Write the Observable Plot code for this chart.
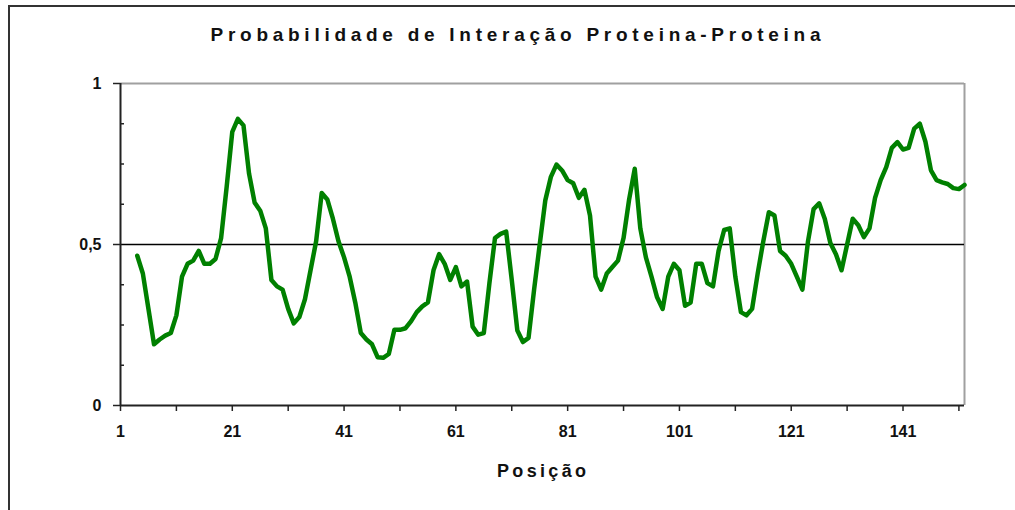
<!DOCTYPE html>
<html><head><meta charset="utf-8">
<script src="https://cdn.jsdelivr.net/npm/d3@7"></script>
<script src="https://cdn.jsdelivr.net/npm/@observablehq/plot@0.6"></script>
<style>
body{margin:0;background:#fff;}
#wrap{position:relative;width:1015px;height:510px;overflow:hidden;background:#fff;}
#frame{position:absolute;left:8px;top:5px;width:1100px;height:600px;border:2px solid #333;box-sizing:border-box;pointer-events:none;}
</style></head><body>
<div id="wrap"><div id="chart"></div><div id="frame"></div></div>
<script>
const chartTitle = "Probabilidade de Interação Proteina-Proteina";
const xTitle = "Posição";
const positions = [4,5,6,7,8,9,10,11,12,13,14,15,16,17,18,19,20,21,22,23,24,25,26,27,28,29,30,31,32,33,34,35,36,37,38,39,40,41,42,43,44,45,46,47,48,49,50,51,52,53,54,55,56,57,58,59,60,61,62,63,64,65,66,67,68,69,70,71,72,73,74,75,76,77,78,79,80,81,82,83,84,85,86,87,88,89,90,91,92,93,94,95,96,97,98,99,100,101,102,103,104,105,106,107,108,109,110,111,112,113,114,115,116,117,118,119,120,121,122,123,124,125,126,127,128,129,130,131,132,133,134,135,136,137,138,139,140,141,142,143,144,145,146,147,148,149,150,151,152];
const probability = [0.465,0.41,0.30,0.19,0.205,0.217,0.225,0.28,0.40,0.44,0.45,0.48,0.44,0.44,0.455,0.52,0.68,0.85,0.89,0.87,0.72,0.63,0.605,0.55,0.39,0.37,0.36,0.30,0.255,0.275,0.33,0.42,0.51,0.66,0.64,0.58,0.51,0.46,0.40,0.32,0.225,0.205,0.19,0.15,0.148,0.16,0.235,0.235,0.24,0.262,0.29,0.308,0.32,0.42,0.47,0.44,0.39,0.43,0.37,0.385,0.245,0.22,0.225,0.38,0.52,0.533,0.54,0.39,0.233,0.197,0.21,0.36,0.50,0.637,0.71,0.748,0.73,0.70,0.69,0.645,0.67,0.59,0.40,0.36,0.41,0.43,0.45,0.52,0.64,0.735,0.55,0.46,0.40,0.336,0.30,0.40,0.44,0.42,0.31,0.32,0.44,0.44,0.38,0.37,0.48,0.545,0.55,0.40,0.29,0.28,0.30,0.41,0.51,0.60,0.59,0.48,0.465,0.44,0.40,0.36,0.51,0.61,0.628,0.58,0.505,0.47,0.42,0.50,0.58,0.56,0.523,0.55,0.645,0.70,0.74,0.80,0.818,0.795,0.80,0.86,0.875,0.82,0.73,0.70,0.693,0.688,0.675,0.672,0.685];
const xTicks = [1,11,21,31,41,51,61,71,81,91,101,111,121,131,141,151];
const xTickLabels = [1,21,41,61,81,101,121,141];
const yTicks = [0,0.5,1];
const yMinorTicks = [0.125,0.25,0.375,0.625,0.75,0.875];
const threshold = [0.5];

const data = positions.map((p, i) => ({pos: p, prob: probability[i]}));
const font = "'Liberation Sans', Arial, sans-serif";

const plot = Plot.plot({
  width: 1015,
  height: 510,
  marginLeft: 120,
  marginRight: 51,
  marginTop: 83,
  marginBottom: 105,
  style: {fontFamily: font, fontSize: "16px", fontWeight: "bold", color: "#111", background: "#fff"},
  x: {domain: [1, 152], label: null},
  y: {domain: [0, 1], label: null},
  marks: [
    Plot.ruleY([1], {stroke: "#a0a0a0", strokeWidth: 2}),
    Plot.ruleX([152], {stroke: "#a0a0a0", strokeWidth: 2}),
    Plot.ruleY(threshold, {stroke: "#000", strokeWidth: 1.5}),
    Plot.lineY(data, {x: "pos", y: "prob", stroke: "#008000", strokeWidth: 4.5, strokeLinejoin: "round", strokeLinecap: "round"}),
    Plot.axisY({ticks: yMinorTicks, tickSize: -4, tickFormat: () => "", stroke: "#222", strokeWidth: 1.5}),
    Plot.axisY({ticks: yTicks, tickSize: 7, tickPadding: 12, tickFormat: d => String(d).replace(".", ","), stroke: "#222", strokeWidth: 1.5, fontSize: 16, fontWeight: "bold"}),
    Plot.axisX({ticks: xTicks, tickSize: 6, tickPadding: 14, tickFormat: d => xTickLabels.includes(d) ? String(d) : "", stroke: "#222", strokeWidth: 1.5, fontSize: 16, fontWeight: "bold"}),
    Plot.ruleX([1], {stroke: "#222", strokeWidth: 2}),
    Plot.ruleY([0], {stroke: "#222", strokeWidth: 2}),
    Plot.text([chartTitle], {frameAnchor: "top", dy: -49, dx: -27, fontSize: 19, fontWeight: "bold", fill: "#111", lineAnchor: "middle"}),
    Plot.text([xTitle], {frameAnchor: "bottom", dy: 66, dx: -1, fontSize: 18, fontWeight: "bold", fill: "#111", lineAnchor: "middle"})
  ]
});
document.getElementById("chart").appendChild(plot);
d3.select(plot).selectAll("text").each(function() {
  const t = this.textContent;
  if (t === chartTitle) { this.setAttribute("textLength", 610); this.setAttribute("lengthAdjust", "spacing"); }
  if (t === xTitle) { this.setAttribute("textLength", 89); this.setAttribute("lengthAdjust", "spacing"); }
});
</script>
</body></html>
